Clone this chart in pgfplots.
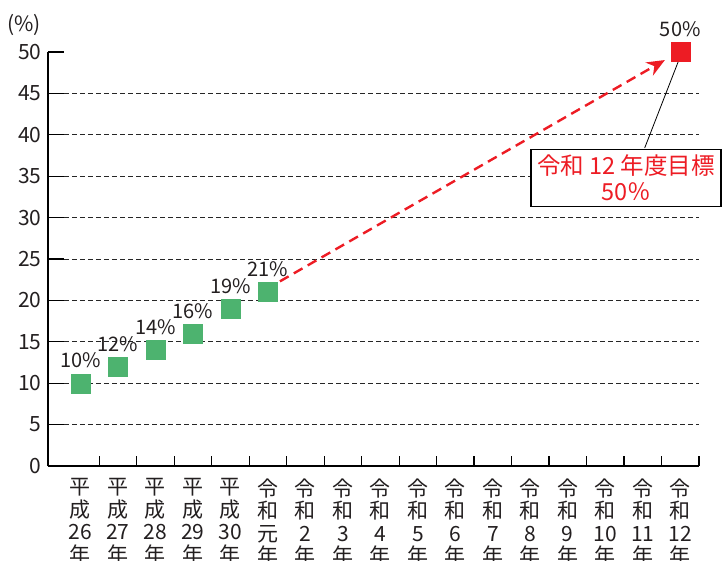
\documentclass[border=0pt]{standalone}
\usepackage{pgfplots}
\pgfplotsset{compat=1.18}
\usetikzlibrary{arrows.meta}
\usepackage{fontspec}
\setmainfont{Noto Sans CJK JP}
\definecolor{mgreen}{HTML}{4DB36F}
\definecolor{mred}{HTML}{ED1C24}
\definecolor{txt}{HTML}{231F20}
\begin{document}
\begin{tikzpicture}[x=1pt,y=1pt]
\begin{axis}[
  at={(0,0)}, anchor=south west,
  scale only axis, width=651pt, height=414pt,
  xmin=-0.867, xmax=16.5, ymin=0, ymax=50,
  axis lines*=left,
  axis line style={line width=1.4pt, black},
  clip=false,
  tick align=inside,
  major tick length=16pt, minor tick length=10pt,
  tick style={line width=1.2pt, black},
  ytick={0,5,...,45},
  extra y ticks={50},
  extra y tick style={grid=none},
  ymajorgrids,
  major grid style={dash pattern=on 5pt off 3pt, line width=0.9pt, black!85},
  xtick={0,...,16},
  major x tick style={draw=none},
  minor xtick={0.5,1.5,...,16.5},
  xticklabels={{平\\成\\26\\年},{平\\成\\27\\年},{平\\成\\28\\年},{平\\成\\29\\年},{平\\成\\30\\年},{令\\和\\元\\年},{令\\和\\2\\年},{令\\和\\3\\年},{令\\和\\4\\年},{令\\和\\5\\年},{令\\和\\6\\年},{令\\和\\7\\年},{令\\和\\8\\年},{令\\和\\9\\年},{令\\和\\10\\年},{令\\和\\11\\年},{令\\和\\12\\年}},
  xticklabel style={align=center, font=\fontsize{21}{22.5}\selectfont, text=txt, anchor=north, yshift=-9pt},
  yticklabel style={font=\fontsize{21}{22}\selectfont, text=txt, xshift=-3pt},
  /pgf/number format/assume math mode=true,
]
\addplot[mred, line width=2.4pt, dash pattern=on 10pt off 6pt, -{Stealth[length=18pt,width=15pt]}] coordinates {(5.32,22.3) (15.59,49.03)};
\addplot[only marks, mark=square*, mark size=9.5pt, mark options={fill=mgreen, draw=mgreen},
  point meta=explicit symbolic, nodes near coords,
  every node near coord/.append style={anchor=south, inner sep=0pt, yshift=15pt, text=txt, font=\fontsize{20}{22}\selectfont}]
  coordinates {(0,10) [10\%] (1,12) [12\%] (2,14) [14\%] (3,16) [16\%] (4,19) [19\%] (5,21) [21\%]};
\addplot[only marks, mark=square*, mark size=9.5pt, mark options={fill=mred, draw=mred},
  point meta=explicit symbolic, nodes near coords,
  every node near coord/.append style={anchor=south, inner sep=0pt, yshift=15pt, text=txt, font=\fontsize{20}{22}\selectfont}]
  coordinates {(16,50) [50\%]};
\addplot[black, line width=0.8pt] coordinates {(15.05,38.4) (15.96,49.0)};
\node[draw=black, line width=1.2pt, fill=white, minimum width=190pt, minimum height=57pt, align=center, text=mred, font=\fontsize{23.5}{26}\selectfont, inner sep=0pt] at (axis cs:14.55,34.8) {令和 12 年度目標\\50％};
\node[font=\fontsize{21}{22}\selectfont, text=txt] at (axis cs:-1.507,53.26) {(\%)};
\end{axis}
\pgfresetboundingbox
\path (-48,-94) rectangle (675,466);
\end{tikzpicture}
\end{document}
